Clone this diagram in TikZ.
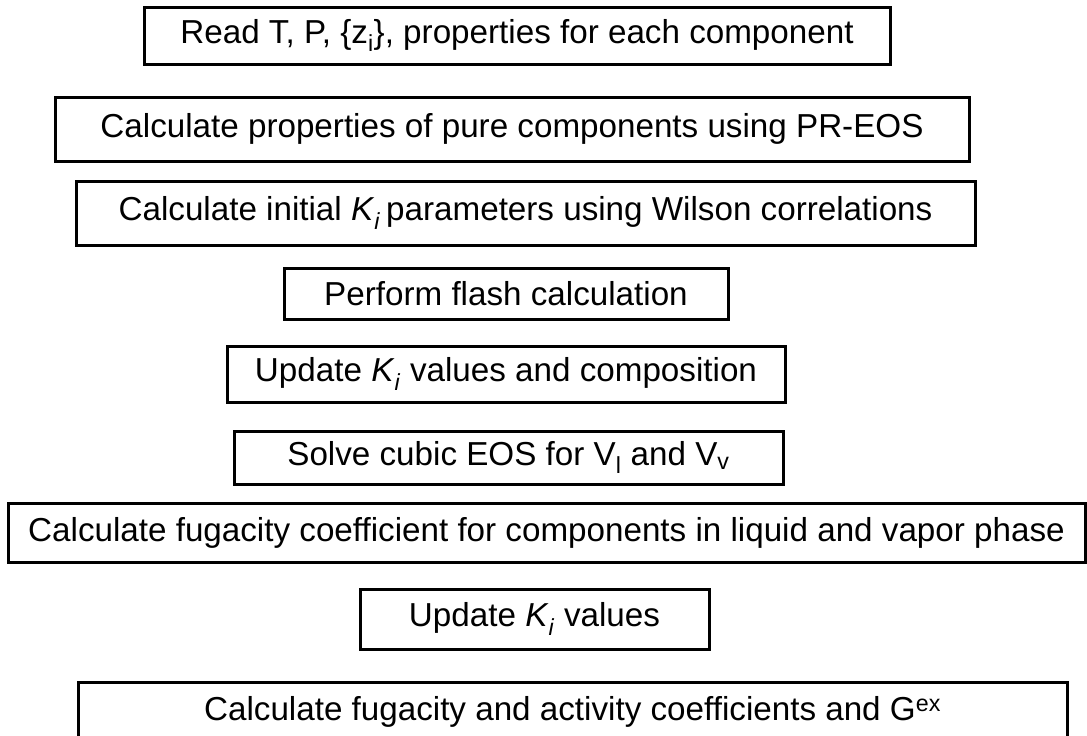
\documentclass[tikz,border=0pt]{standalone}
\usepackage{fontspec}
\setmainfont{Liberation Sans}
\begin{document}
\begin{tikzpicture}[x=1pt,y=-1pt,
  box/.style={draw=black, line width=3pt, rectangle, inner sep=0pt, align=center,
    font=\fontsize{33.2}{38}\selectfont}]
\useasboundingbox (0,0) rectangle (1087,736);
\node[box, minimum width=746pt, minimum height=57pt] (b1) at (517,35.5)
  {Read T, P, \{z\textsubscript{i}\}, properties for each component};
\node[box, minimum width=914pt, minimum height=64pt] (b2) at (512,129)
  {Calculate properties of pure components using PR-EOS};
\node[box, minimum width=899pt, minimum height=64pt] (b3) at (525.5,213)
  {Calculate initial \textit{K}\textsubscript{\textit{i}}\,parameters using Wilson correlations};
\node[box, minimum width=444pt, minimum height=51pt] (b4) at (506,293.5)
  {Perform flash calculation};
\node[box, minimum width=558pt, minimum height=56pt] (b5) at (506,374)
  {Update \textit{K}\textsubscript{\textit{i}} values and composition};
\node[box, minimum width=549pt, minimum height=53pt] (b6) at (508.5,457.5)
  {Solve cubic EOS for V\textsubscript{l} and V\textsubscript{v}};
\node[box, minimum width=1077pt, minimum height=59pt] (b7) at (546.5,532.5)
  {Calculate fugacity coefficient for components in liquid and vapor phase};
\node[box, minimum width=349pt, minimum height=60pt] (b8) at (534.5,619)
  {Update \textit{K}\textsubscript{\textit{i}} values};
\node[box, minimum width=989pt, minimum height=60pt] (b9) at (572.5,712)
  {Calculate fugacity and activity coefficients and G\textsuperscript{ex}};
\end{tikzpicture}
\end{document}
